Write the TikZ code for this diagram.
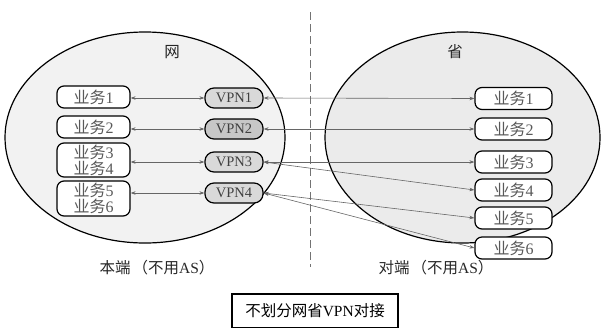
\documentclass[tikz,border=0pt]{standalone}
\usepackage{fontspec}
\setmainfont{Liberation Serif}
\newfontfamily\cjk{Noto Sans CJK SC}
\usetikzlibrary{shapes.geometric,arrows.meta}
\newcommand{\yw}[1]{{\cjk 业务}#1}
\begin{document}
\begin{tikzpicture}[x=1pt,y=-1pt,
  region/.style={draw=black, line width=1.2pt, shape=ellipse, inner sep=0pt},
  biz/.style={draw=black, line width=1.2pt, rounded corners=7pt, fill=white,
    minimum width=73pt, minimum height=22pt, inner sep=0pt, text=black!65,
    font=\fontsize{16}{16}\selectfont, align=center},
  vpn/.style={draw=black, line width=1.2pt, rounded corners=9pt, fill=black!15,
    minimum width=58pt, minimum height=20pt, inner sep=0pt, text=black!75,
    font=\fontsize{14.5}{15}\selectfont},
  conn/.style={draw=black!60, line width=0.6pt,
    {Stealth[length=5pt,width=3.5pt]}-{Stealth[length=5pt,width=3.5pt]}},
  lbl/.style={font=\fontsize{15.5}{16}\selectfont, text=black!85}]
\useasboundingbox (0,0) rectangle (601,327);
% regions
\node[region, fill=black!5, minimum width=280pt, minimum height=211pt] (le) at (145,137.5) {};
\node[region, fill=black!8, minimum width=275pt, minimum height=211pt] (re) at (462.5,137.5) {};
% divider
\coordinate (dtop) at (310,12);
\coordinate (dbot) at (310,267);
\draw[black!55, line width=0.8pt, dash pattern=on 8pt off 4pt] (dtop) -- (dbot);
% titles
\node[lbl] (tw) at (172,52) {\cjk 网};
\node[lbl] (ts) at (455,52) {\cjk 省};
\node[lbl] (bl) at (157,268) {{\cjk 本端\hspace{2pt}（不用}AS{\cjk ）}};
\node[lbl] (br) at (436,268) {{\cjk 对端\hspace{2pt}（不用}AS{\cjk ）}};
% left business
\node[biz] (l1) at (93.5,97) {\yw{1}};
\node[biz] (l2) at (93.5,127) {\yw{2}};
\node[biz, minimum height=34pt] (l3) at (93.5,160) {\yw{3}\\\yw{4}};
\node[biz, minimum height=35pt] (l4) at (93.5,198.5) {\yw{5}\\\yw{6}};
% vpn
\node[vpn] (v1) at (234,98) {VPN1};
\node[vpn, fill=black!22] (v2) at (234,129) {VPN2};
\node[vpn] (v3) at (234,162) {VPN3};
\node[vpn] (v4) at (234,193) {VPN4};
% right business
\node[biz, minimum width=77pt] (r1) at (513.5,98.5) {\yw{1}};
\node[biz, minimum width=77pt] (r2) at (513.5,129) {\yw{2}};
\node[biz, minimum width=77pt] (r3) at (513.5,162) {\yw{3}};
\node[biz, minimum width=77pt] (r4) at (513.5,190) {\yw{4}};
\node[biz, minimum width=77pt] (r5) at (513.5,218) {\yw{5}};
\node[biz, minimum width=77pt] (r6) at (513.5,248) {\yw{6}};
% connectors left
\draw[conn] (l1.east |- v1.west) -- (v1.west);
\draw[conn] (l2.east |- v2.west) -- (v2.west);
\draw[conn] (l3.east |- v3.west) -- (v3.west);
\draw[conn] (l4.east |- v4.west) -- (v4.west);
% connectors right
\draw[conn] (v1.east) -- (r1.west);
\draw[conn] (v2.east) -- (r2.west);
\draw[conn] (v3.east) -- (r3.west);
\draw[conn] (v3.east) -- (r4.west);
\draw[conn] (v4.east) -- (r5.west);
\draw[conn] (v4.east) -- (r6.west);
% caption box
\node[draw=black, line width=1.2pt, minimum width=166pt, minimum height=34pt,
  inner sep=0pt, font=\fontsize{15.5}{16}\selectfont] (cap) at (315,311)
  {{\cjk 不划分网省}VPN{\cjk 对接}};
\end{tikzpicture}
\end{document}
